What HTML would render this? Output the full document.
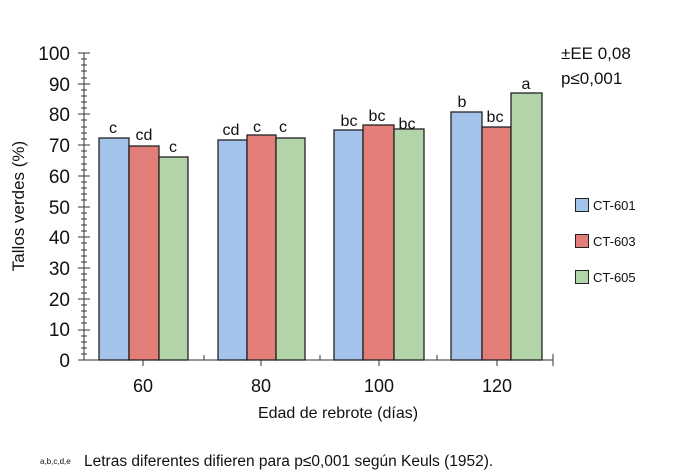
<!DOCTYPE html>
<html><head><meta charset="utf-8"><style>body{margin:0;background:#fff}svg{display:block}text{font-family:"Liberation Sans",Arial,sans-serif;fill:#111}</style></head>
<body>
<svg width="675" height="473" viewBox="0 0 675 473" xmlns="http://www.w3.org/2000/svg">
<g stroke="#333" stroke-width="1">
<line x1="84" y1="53" x2="84" y2="360"/>
<line x1="84" y1="360" x2="553" y2="360"/>
</g>
<g font-size="19" text-anchor="end">
<text x="70" y="367">0</text><text x="70" y="336">10</text><text x="70" y="306">20</text><text x="70" y="275">30</text><text x="70" y="244">40</text><text x="70" y="214">50</text><text x="70" y="183">60</text><text x="70" y="152">70</text><text x="70" y="121">80</text><text x="70" y="91">90</text><text x="70" y="60">100</text>
</g>
<text transform="translate(24 206) rotate(-90)" font-size="17" text-anchor="middle">Tallos verdes (%)</text>
<g stroke="#222" stroke-width="1.3">
<rect x="99" y="138" width="30" height="222" fill="#a4c3ea"/>
<rect x="129" y="146" width="30" height="214" fill="#e27d78"/>
<rect x="159" y="157" width="29" height="203" fill="#b3d3a8"/>
<rect x="218" y="140" width="29" height="220" fill="#a4c3ea"/>
<rect x="247" y="135" width="29" height="225" fill="#e27d78"/>
<rect x="276" y="138" width="29" height="222" fill="#b3d3a8"/>
<rect x="334" y="130" width="29" height="230" fill="#a4c3ea"/>
<rect x="363" y="125" width="31" height="235" fill="#e27d78"/>
<rect x="394" y="129" width="30" height="231" fill="#b3d3a8"/>
<rect x="451" y="112" width="31" height="248" fill="#a4c3ea"/>
<rect x="482" y="127" width="29" height="233" fill="#e27d78"/>
<rect x="511" y="93" width="31" height="267" fill="#b3d3a8"/>
</g>
<g stroke="#333"><line x1="143" y1="360" x2="143" y2="366"/><line x1="204" y1="355" x2="204" y2="360"/><line x1="261" y1="360" x2="261" y2="366"/><line x1="320" y1="355" x2="320" y2="360"/><line x1="379" y1="360" x2="379" y2="366"/><line x1="437" y1="355" x2="437" y2="360"/><line x1="497" y1="360" x2="497" y2="366"/><line x1="553" y1="354" x2="553" y2="366"/></g>
<g font-size="16" text-anchor="middle">
<text x="113" y="133">c</text><text x="144" y="140">cd</text><text x="173" y="152">c</text>
<text x="231" y="135">cd</text><text x="257" y="132">c</text><text x="283" y="132">c</text>
<text x="349" y="126">bc</text><text x="377" y="121">bc</text><text x="407" y="129">bc</text>
<text x="462" y="107">b</text><text x="495" y="122">bc</text><text x="526" y="89">a</text>
</g>
<g font-size="18" text-anchor="middle"><text x="143" y="392">60</text><text x="261" y="392">80</text><text x="379" y="392">100</text><text x="497" y="392">120</text></g>
<text x="338" y="418" font-size="16" text-anchor="middle">Edad de rebrote (días)</text>
<text x="40" y="464" font-size="8">a,b,c,d,e</text>
<text x="84" y="466" font-size="15.5">Letras diferentes difieren para p≤0,001 según Keuls (1952).</text>
<text x="561" y="59" font-size="17">±EE 0,08</text>
<text x="561" y="84" font-size="17">p≤0,001</text>
<g stroke="#222" stroke-width="1"><rect x="575.5" y="198.5" width="13" height="13" fill="#a4c3ea"/><rect x="575.5" y="234.5" width="13" height="13" fill="#e27d78"/><rect x="575.5" y="270.5" width="13" height="13" fill="#b3d3a8"/></g>
<g font-size="13"><text x="593" y="210">CT-601</text><text x="593" y="246">CT-603</text><text x="593" y="282">CT-605</text></g>
<g stroke="#333" stroke-width="1">
<path d="M78 53h12M78 84h12M78 114h12M78 145h12M78 176h12M78 207h12M78 237h12M78 268h12M78 299h12M78 330h12M78 360h12"/>
<path d="M81 59h6M81 65h6M81 71h6M81 78h6M81 90h6M81 96h6M81 102h6M81 108h6M81 120h6M81 127h6M81 133h6M81 139h6M81 151h6M81 157h6M81 164h6M81 170h6M81 182h6M81 188h6M81 194h6M81 200h6M81 213h6M81 219h6M81 225h6M81 231h6M81 243h6M81 250h6M81 256h6M81 262h6M81 274h6M81 280h6M81 287h6M81 293h6M81 305h6M81 311h6M81 317h6M81 323h6M81 336h6M81 342h6M81 348h6M81 354h6"/>
</g>
</svg>
</body></html>
